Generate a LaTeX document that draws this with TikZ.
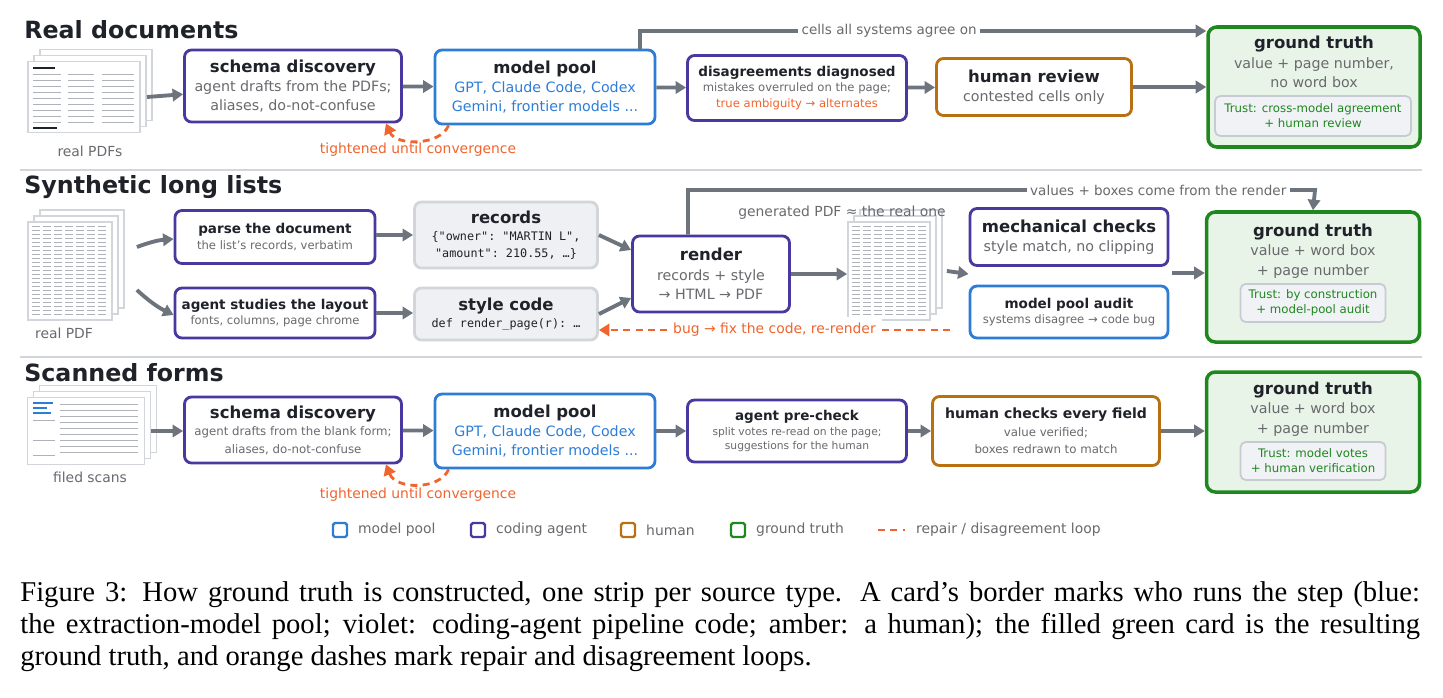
\documentclass[tikz,border=0pt]{standalone}
\usepackage{fontspec}
\setmainfont{DejaVu Sans}
\setmonofont{DejaVu Sans Mono}
\newfontfamily\capfont{Liberation Serif}
\usetikzlibrary{arrows.meta}

\definecolor{ink}{RGB}{32,34,42}
\definecolor{subgray}{RGB}{105,105,110}
\definecolor{agentviolet}{RGB}{72,56,160}
\definecolor{poolblue}{RGB}{45,125,215}
\definecolor{amber}{RGB}{184,112,18}
\definecolor{truthgreen}{RGB}{30,135,30}
\definecolor{truthfill}{RGB}{232,244,232}
\definecolor{arrowgray}{RGB}{110,116,125}
\definecolor{repairorange}{RGB}{240,100,45}
\definecolor{cardfill}{RGB}{238,240,244}
\definecolor{cardline}{RGB}{210,213,218}
\definecolor{trustfill}{RGB}{240,242,245}
\definecolor{trustline}{RGB}{198,203,210}
\definecolor{pagegray}{RGB}{175,178,185}

\newcommand\ctitle{\rmfamily\bfseries\fontsize{9.4}{11}\selectfont\color{ink}}
\newcommand\stitle{\bfseries\fontsize{7.7}{10}\selectfont\color{ink}}
\newcommand\csub{\fontsize{8.1}{11}\selectfont}
\newcommand\ssub{\fontsize{6.6}{9}\selectfont}
\newcommand\strip{\bfseries\fontsize{13.5}{15}\selectfont\color{ink}}
\newcommand\pxl[1]{#1*0.02cm}

% stack of pages: name, x, y, width, height
\newcommand\pdfstack[5]{
  \foreach \k in {2,1}
    \node[page, minimum width=\pxl{#4}, minimum height=\pxl{#5}] at (#2+\k*6, #3-\k*6) {};
  \node[page, minimum width=\pxl{#4}, minimum height=\pxl{#5}] (#1) at (#2,#3) {};
}

\tikzset{
  card/.style={draw, rounded corners=4pt, line width=1.6pt, fill=white, align=center,
    inner sep=2pt, text=subgray, font=\csub},
  agent/.style={card, draw=agentviolet},
  pool/.style={card, draw=poolblue},
  human/.style={card, draw=amber},
  datacard/.style={card, draw=cardline, fill=cardfill},
  truth/.style={draw=truthgreen, fill=truthfill, rounded corners=5pt, line width=2pt},
  trust/.style={draw=trustline, fill=trustfill, rounded corners=3pt, line width=1pt,
    align=center, text=truthgreen, font=\fontsize{6.7}{8.6}\selectfont},
  page/.style={draw=cardline, fill=white, line width=1pt, inner sep=0pt},
  scribble/.style={draw=pagegray, line width=0.5pt},
  flow/.style={-{Triangle[length=6pt,width=7pt]}, line width=2.2pt, draw=arrowgray},
  repair/.style={-{Triangle[length=6pt,width=7pt]}, dashed, dash pattern=on 4pt off 3pt,
    line width=1.6pt, draw=repairorange},
  note/.style={fill=white, text=subgray, font=\fontsize{7.7}{9}\selectfont, inner sep=2pt},
  lbl/.style={text=subgray, font=\fontsize{7.9}{10}\selectfont},
  key/.style={draw=#1, line width=1.4pt, rounded corners=1pt, minimum size=\pxl{14}, inner sep=0pt}
}

\begin{document}
\begin{tikzpicture}[x=0.02cm, y=-0.02cm]
  \useasboundingbox (0,0) rectangle (1443,697);

  % Strip separators
  \draw[cardline, line width=1.2pt] (20,170) -- (1422,170) (20,357) -- (1422,357);

  % ---------------- Real documents
  \node[anchor=west, inner sep=0pt] at (24,30) {\strip Real documents};
  \pdfstack{pdfA}{84}{97}{112}{71}
  \foreach \r in {0,...,8}
    \draw[scribble] (33,74+\r*6) -- ++(28,0) (68,74+\r*6) -- ++(26,0) (102,74+\r*6) -- ++(32,0);
  \draw[ink, line width=1.2pt] (33,68) -- ++(22,0) (33,128) -- ++(24,0);
  \node[lbl] at (90,151) {real PDFs};

  \node[agent, minimum width=\pxl{217}, minimum height=\pxl{72}] (schemaA) at (293,86)
    {{\ctitle schema discovery}\\agent drafts from the PDFs;\\aliases, do-not-confuse};
  \node[pool, minimum width=\pxl{220}, minimum height=\pxl{74}, text=poolblue] (poolA) at (545,87)
    {{\ctitle model pool}\\GPT, Claude Code, Codex\\Gemini, frontier models ...};
  \node[agent, minimum width=\pxl{219}, minimum height=\pxl{65}, font=\ssub] (diagA) at (797,88)
    {{\stitle disagreements diagnosed}\\mistakes overruled on the page;\\{\color{repairorange}true ambiguity → alternates}};
  \node[human, minimum width=\pxl{195}, minimum height=\pxl{57}] (humanA) at (1034,87)
    {{\ctitle human review}\\contested cells only};
  \node[truth, minimum width=\pxl{212}, minimum height=\pxl{120}] (gtA) at (1314,87) {};
  \node[card, draw=none, fill=none] at (1314,62)
    {{\ctitle ground truth}\\value + page number,\\no word box};
  \node[trust, minimum width=\pxl{196}, minimum height=\pxl{40}] (trustA) at (1313,116)
    {Trust: cross-model agreement\\+ human review};

  \draw[flow] ([xshift=\pxl{6}]pdfA.east) -- (schemaA);
  \draw[flow] (schemaA) -- (poolA);
  \draw[flow] (poolA) -- (diagA);
  \draw[flow] (diagA) -- (humanA);
  \draw[flow] (humanA) -- (humanA -| gtA.west);
  \draw[flow] ([xshift=\pxl{95}]poolA.north) |- (gtA.west |- 0,31)
    node[note, pos=0.72] {cells all systems agree on};
  \draw[repair] ([xshift=\pxl{15}]poolA.south west) .. controls (440,146) and (396,146)
    .. ([xshift=-\pxl{17}]schemaA.south east);
  \node[lbl, text=repairorange] at (418,150) {tightened until convergence};

  % ---------------- Synthetic long lists
  \node[anchor=west, inner sep=0pt] at (24,187) {\strip Synthetic long lists};
  \pdfstack{pdfB}{70}{271}{84}{98}
  \foreach \c in {0,...,6}
    \foreach \r in {0,...,22}
      \draw[scribble] (32+\c*11,226+\r*4) -- ++(8,0);
  \node[lbl] at (64,333) {real PDF};

  \node[agent, minimum width=\pxl{200}, minimum height=\pxl{53}, font=\ssub] (parseB) at (275,237)
    {{\stitle parse the document}\\the list's records, verbatim};
  \node[agent, minimum width=\pxl{200}, minimum height=\pxl{50}, font=\ssub] (agentB) at (275,313)
    {{\stitle agent studies the layout}\\fonts, columns, page chrome};
  \node[datacard, minimum width=\pxl{183}, minimum height=\pxl{66}, font=\ttfamily\fontsize{6.7}{9.5}\selectfont, text=ink] (recB) at (506,235)
    {{\ctitle records}\\\{"owner": "MARTIN L",\\"amount": 210.55, …\}};
  \node[datacard, minimum width=\pxl{183}, minimum height=\pxl{52}, font=\ttfamily\fontsize{6.7}{9.5}\selectfont, text=ink] (styleB) at (506,314)
    {{\ctitle style code}\\def render\_page(r): …};
  \node[agent, minimum width=\pxl{157}, minimum height=\pxl{76}] (renderB) at (711,274)
    {{\ctitle render}\\records + style\\→ HTML → PDF};
  \pdfstack{pdfG}{889}{271}{82}{98}
  \foreach \c in {0,...,6}
    \foreach \r in {0,...,22}
      \draw[scribble] (852+\c*11,226+\r*4) -- ++(8,0);
  \node[lbl] at (842,213) {generated PDF ≈ the real one};
  \node[agent, minimum width=\pxl{198}, minimum height=\pxl{57}] (mechB) at (1069,237)
    {{\ctitle mechanical checks}\\style match, no clipping};
  \node[pool, minimum width=\pxl{198}, minimum height=\pxl{52}, font=\ssub] (auditB) at (1069,312)
    {{\stitle model pool audit}\\systems disagree → code bug};
  \node[truth, minimum width=\pxl{213}, minimum height=\pxl{130}] (gtB) at (1313,277) {};
  \node[card, draw=none, fill=none] at (1313,251)
    {{\ctitle ground truth}\\value + word box\\+ page number};
  \node[trust, minimum width=\pxl{145}, minimum height=\pxl{38}] (trustB) at (1313,303)
    {Trust: by construction\\+ model-pool audit};
  \coordinate (chkOut) at (1172,273);
  \coordinate (bugStart) at (950,330);

  \draw[flow] ([xshift=\pxl{24},yshift=\pxl{24}]pdfB.east) to[bend left=8] ([yshift=\pxl{-2}]parseB.west);
  \draw[flow] ([xshift=\pxl{24},yshift=-\pxl{19}]pdfB.east) to[bend right=8] ([yshift=\pxl{-2}]agentB.west);
  \draw[flow] (parseB.east |- recB) -- (recB);
  \draw[flow] (agentB) -- (agentB -| styleB.west);
  \draw[flow] (recB.east) -- ([yshift=\pxl{24}]renderB.west);
  \draw[flow] (styleB.east) -- ([yshift=-\pxl{24}]renderB.west);
  \draw[flow] (renderB) -- (renderB -| pdfG.west);
  \draw[flow] ([xshift=\pxl{16}]pdfG.east) -- (renderB -| mechB.west);
  \draw[flow] (chkOut) -- (chkOut -| gtB.west);
  \draw[flow] ([xshift=-\pxl{23}]renderB.north) |- node[note, pos=0.875] {values + boxes come from the render}
    (1315,190) -- (gtB.north);
  \draw[repair] (bugStart) -- (bugStart -| styleB.east)
    node[lbl, fill=white, text=repairorange, midway] {bug → fix the code, re-render};

  % ---------------- Scanned forms
  \node[anchor=west, inner sep=0pt] at (24,373) {\strip Scanned forms};
  \pdfstack{pdfC}{86}{431}{117}{67}
  \draw[poolblue, line width=0.8pt] (33,403) -- ++(20,0) (33,408) -- ++(14,0) (33,413) -- ++(18,0);
  \foreach \r in {0,...,8}
    \draw[scribble] (60,404+\r*6) -- ++(78,0);
  \draw[scribble] (33,420) -- ++(22,0) (33,440) -- ++(22,0) (33,455) -- ++(22,0);
  \node[lbl] at (90,477) {filed scans};

  \node[agent, minimum width=\pxl{217}, minimum height=\pxl{66}, font=\fontsize{6.7}{10}\selectfont] (schemaC) at (293,430)
    {{\ctitle schema discovery}\\agent drafts from the blank form;\\aliases, do-not-confuse};
  \node[pool, minimum width=\pxl{220}, minimum height=\pxl{74}, text=poolblue] (poolC) at (545,431)
    {{\ctitle model pool}\\GPT, Claude Code, Codex\\Gemini, frontier models ...};
  \node[agent, minimum width=\pxl{219}, minimum height=\pxl{62}, font=\fontsize{6.1}{8.5}\selectfont] (checkC) at (797,431)
    {{\stitle agent pre-check}\\split votes re-read on the page;\\suggestions for the human};
  \node[human, minimum width=\pxl{227}, minimum height=\pxl{69}, font=\fontsize{6.7}{10}\selectfont] (humanC) at (1046,431)
    {{\ctitle\fontsize{8}{11}\selectfont human checks every field}\\value verified;\\boxes redrawn to match};
  \node[truth, minimum width=\pxl{213}, minimum height=\pxl{120}] (gtC) at (1313,432) {};
  \node[card, draw=none, fill=none] at (1313,409)
    {{\ctitle ground truth}\\value + word box\\+ page number};
  \node[trust, minimum width=\pxl{145}, minimum height=\pxl{38}] (trustC) at (1313,461)
    {Trust: model votes\\+ human verification};

  \draw[flow] ([xshift=\pxl{6}]pdfC.east) -- (pdfC -| schemaC.west);
  \draw[flow] (schemaC) -- (poolC);
  \draw[flow] (poolC) -- (checkC);
  \draw[flow] (checkC) -- (humanC);
  \draw[flow] (humanC) -- (humanC -| gtC.west);
  \draw[repair] ([xshift=\pxl{15}]poolC.south west) .. controls (440,490) and (396,490)
    .. ([xshift=-\pxl{17}]schemaC.south east);
  \node[lbl, text=repairorange] at (418,495) {tightened until convergence};

  % ---------------- Legend
  \node[key=poolblue] (keyPool) at (340,530) {};
  \node[lbl, anchor=west] at (352,530) {model pool};
  \node[key=agentviolet] (keyAgent) at (478,530) {};
  \node[lbl, anchor=west] at (490,530) {coding agent};
  \node[key=amber] (keyHuman) at (628,530) {};
  \node[lbl, anchor=west] at (640,530) {human};
  \node[key=truthgreen] (keyTruth) at (738,530) {};
  \node[lbl, anchor=west] at (750,530) {ground truth};
  \coordinate (keyLoopA) at (878,530);
  \coordinate (keyLoopB) at (905,530);
  \draw[repair, -] (keyLoopA) -- (keyLoopB);
  \node[lbl, anchor=west] at (910,530) {repair / disagreement loop};

  % ---------------- Caption
  \node[anchor=north west, inner sep=0pt, text width=28cm, align=justify,
    font=\capfont\fontsize{16.3}{18.3}\selectfont] (caption) at (20,581)
    {Figure 3: How ground truth is constructed, one strip per source type. A card’s border marks who runs the step (blue:\linebreak
     the extraction-model pool; violet: coding-agent pipeline code; amber: a human); the filled green card is the resulting\linebreak
     ground truth, and orange dashes mark repair and disagreement loops.};
\end{tikzpicture}
\end{document}
